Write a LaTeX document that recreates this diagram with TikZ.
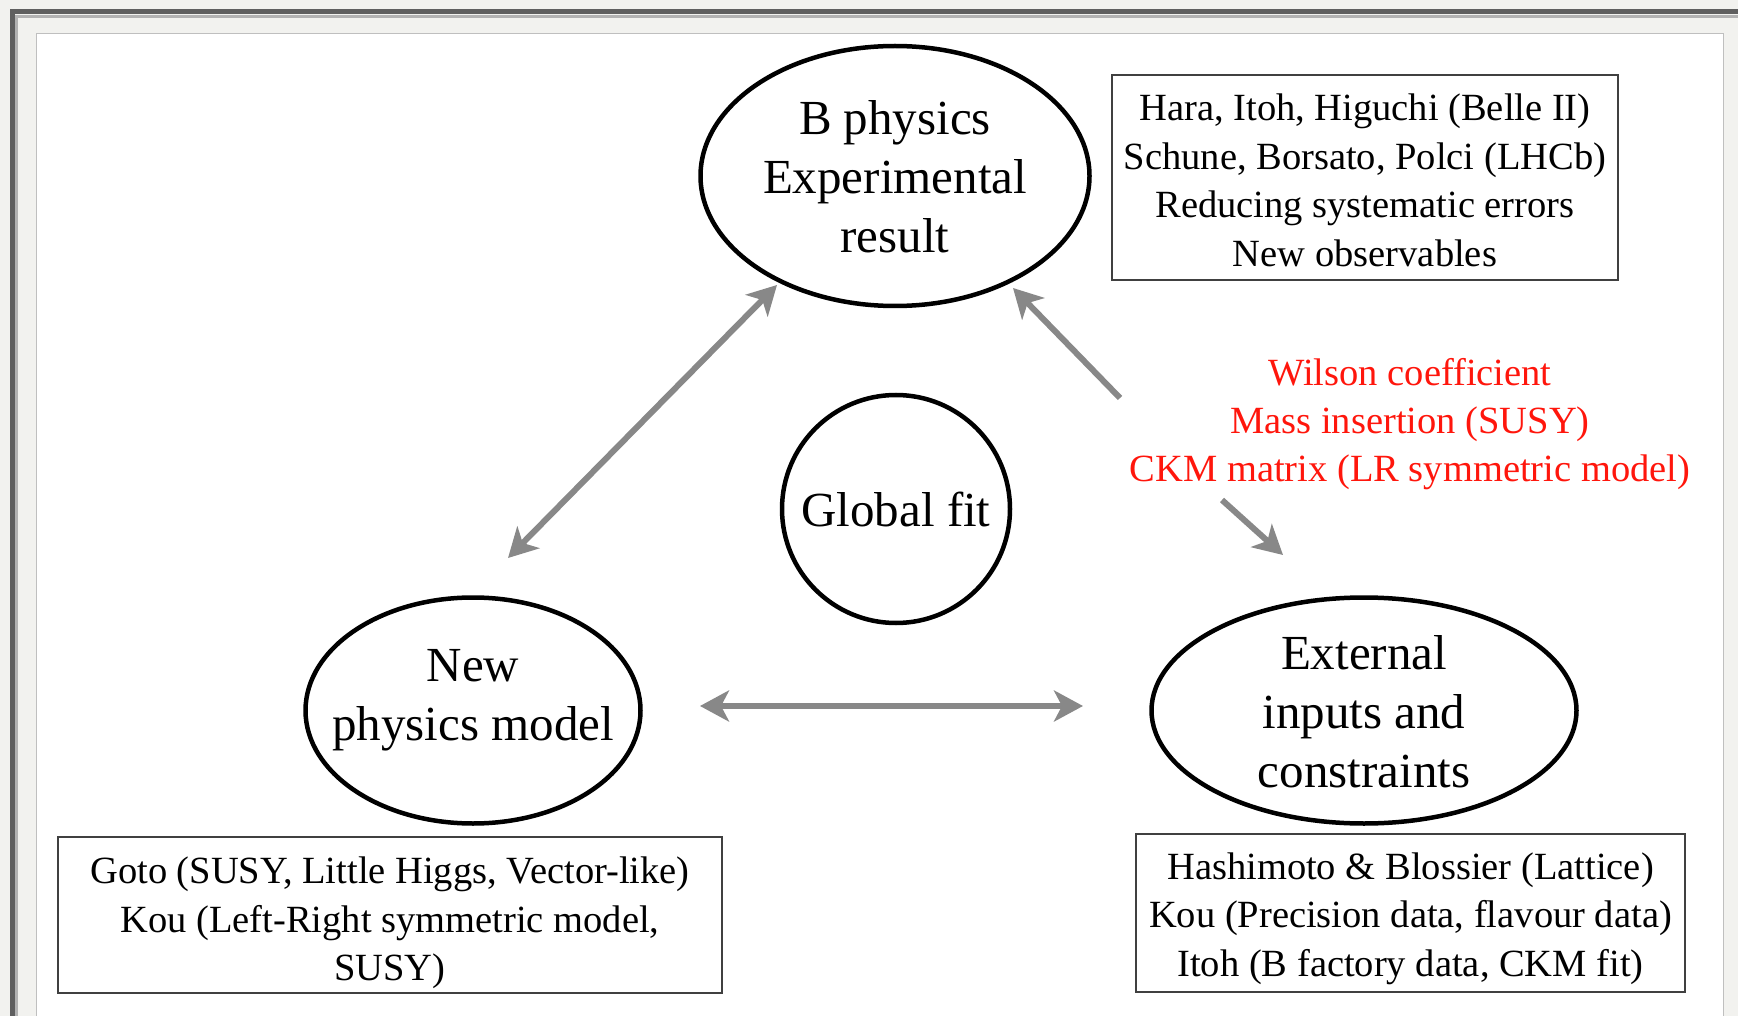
\documentclass[tikz,border=0pt]{standalone}
\usepackage{fontspec}
\setmainfont{Liberation Serif}
\usetikzlibrary{shapes.geometric,arrows.meta}
\definecolor{arrowgray}{RGB}{136,136,136}
\definecolor{panelgray}{RGB}{242,242,239}
\definecolor{framedark}{RGB}{95,95,95}
\definecolor{redtext}{RGB}{255,22,12}
\begin{document}
\begin{tikzpicture}[x=1pt,y=-1pt,
  ell/.style={draw=black, line width=4.5pt, ellipse, inner sep=0pt},
  bigtext/.style={align=center, font=\fontsize{49}{59}\selectfont, inner sep=0pt},
  boxtext/.style={align=center, font=\fontsize{38.5}{48.5}\selectfont, inner sep=0pt},
  infobox/.style={draw=black!75, line width=1.8pt, rectangle, inner sep=0pt},
  conn/.style={draw=arrowgray, line width=6pt, -{Stealth[length=29pt,width=31pt,inset=8pt]}},
  dconn/.style={draw=arrowgray, line width=6pt, {Stealth[length=29pt,width=31pt,inset=8pt]}-{Stealth[length=29pt,width=31pt,inset=8pt]}},
]
\useasboundingbox (0,0) rectangle (1738,1016);
\clip (0,0) rectangle (1738,1016);
% frame
\fill[panelgray] (0,0) rectangle (1738,1016);
\draw[black!30, line width=3pt] (16.5,1100) -- (16.5,16.5) -- (1800,16.5);
\draw[framedark, line width=5pt] (12.5,1100) -- (12.5,12) -- (1800,12);
\draw[fill=white, draw=black!25, line width=1pt] (36,33.5) rectangle (1723,1100);

% ellipses
\node[ell, minimum width=389pt, minimum height=260pt] (bphys) at (895,176) {};
\node[bigtext] (bphystxt) at (895,177) {B physics\\Experimental\\result};
\node[ell, circle, minimum size=228pt, font=\fontsize{49}{59}\selectfont] (gfit) at (896,509) {Global fit};
\node[ell, minimum width=335pt, minimum height=226pt] (newphys) at (473,710.5) {};
\node[bigtext] (newphystxt) at (473,700.5) {New\\physics model};
\node[ell, minimum width=425pt, minimum height=226pt] (ext) at (1364,710.5) {};
\node[bigtext] (exttxt) at (1364,711.5) {External\\inputs and\\constraints};

% boxes
\node[infobox, minimum width=506pt, minimum height=205pt] (bbox) at (1365,177.5) {};
\node[boxtext] (bboxtxt) at (1365,180.5) {Hara, Itoh, Higuchi (Belle II)\\Schune, Borsato, Polci (LHCb)\\Reducing systematic errors\\New observables};
\node[infobox, minimum width=664pt, minimum height=156pt] (nbox) at (390,915) {};
\node[boxtext] (nboxtxt) at (390,923) {Goto (SUSY, Little Higgs, Vector-like)\\Kou (Left-Right symmetric model,\\SUSY)};
\node[infobox, minimum width=549pt, minimum height=158pt] (ebox) at (1410.5,913) {};
\node[boxtext] (eboxtxt) at (1410.5,918.5) {Hashimoto \& Blossier (Lattice)\\Kou (Precision data, flavour data)\\Itoh (B factory data, CKM fit)};

% red text
\node[boxtext, text=redtext, font=\fontsize{38.5}{48}\selectfont] (wilson) at (1410,424.5) {Wilson coefficient\\Mass insertion (SUSY)\\CKM matrix (LR symmetric model)};

% connectors
\coordinate (d1) at (508,558);
\coordinate (d2) at (777,285);
\coordinate (h1) at (700,706);
\coordinate (h2) at (1083,706);
\coordinate (u1) at (1120,398);
\coordinate (u2) at (1013,288);
\coordinate (l1) at (1222,500);
\coordinate (l2) at (1283,555);
\draw[dconn] (d1) -- (d2);
\draw[dconn] (h1) -- (h2);
\draw[conn] (u1) -- (u2);
\draw[conn] (l1) -- (l2);
\end{tikzpicture}
\end{document}
